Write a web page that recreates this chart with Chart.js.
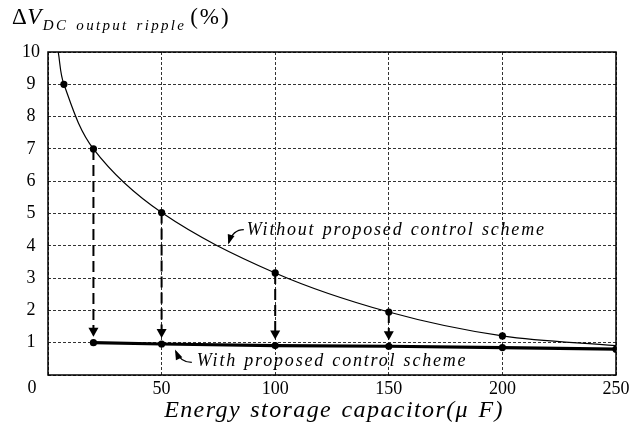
<!DOCTYPE html>
<html>
<head>
<meta charset="utf-8">
<script src="https://cdn.jsdelivr.net/npm/chart.js@4"></script>
<style>
  html, body { margin: 0; padding: 0; background: #fff; }
  #wrap { position: relative; width: 643px; height: 428px; }
  canvas { position: absolute; left: 0; top: 0; }
  #ytitle { position: absolute; left: 12px; top: 3px; font-family: "Liberation Serif", serif; color: #000; white-space: nowrap; line-height: 28px; }
  #ytitle .big { font-size: 23px; letter-spacing: 0.5px; }
  #ytitle .pct { font-size: 23px; letter-spacing: 2px; margin-left: 4px; }
  #ytitle .sub { font-size: 15px; font-style: italic; letter-spacing: 2.3px; word-spacing: 2px; position: relative; top: 6px; margin-left: 1px; }
</style>
</head>
<body>
<div id="wrap">
  <canvas id="c" width="643" height="428"></canvas>
  <div id="ytitle"><span class="big">Δ<i>V</i></span><span class="sub">DC output ripple</span><span class="pct">(%)</span></div>
</div>
<script>
// ---- data ----
const withoutX      = [4.5, 7, 20, 50, 100, 150, 200, 250];
const withoutRipple = [10, 9, 7, 5.03, 3.16, 1.95, 1.21, 0.91];
const withoutMarked = [false, true, true, true, true, true, true, false];
const withX         = [20, 50, 100, 150, 200, 250];
const withRipple    = [1.0, 0.96, 0.91, 0.89, 0.85, 0.80];
const arrowX        = [20, 50, 100, 150];
const xTicks        = [0, 50, 100, 150, 200, 250];
const yTicks        = [0, 1, 2, 3, 4, 5, 6, 7, 8, 9, 10];
const labelWithout  = "Without proposed control scheme";
const labelWith     = "With proposed control scheme";
const xTitle        = "Energy storage capacitor(μ F)";

const FONT = '"Liberation Serif", "Times New Roman", serif';

function ptsFrom(xs, ys) { return xs.map((x, i) => ({ x: x, y: ys[i] })); }
function valAt(xs, ys, x) { return ys[xs.indexOf(x)]; }

const overlay = {
  id: 'overlay',
  beforeDatasetsDraw(chart) {
    const { ctx, scales: { x: xs, y: ys } } = chart;
    ctx.save();
    ctx.strokeStyle = '#000';
    ctx.fillStyle = '#000';
    arrowX.forEach(ax => {
      const px = xs.getPixelForValue(ax);
      const y1 = ys.getPixelForValue(valAt(withoutX, withoutRipple, ax));
      const yTip = ys.getPixelForValue(valAt(withX, withRipple, ax)) - 6;
      const ah = 9, aw = 5;
      ctx.lineWidth = 2;
      ctx.setLineDash([11, 5]);
      ctx.beginPath();
      ctx.moveTo(px, y1);
      ctx.lineTo(px, yTip - ah + 1);
      ctx.stroke();
      ctx.setLineDash([]);
      ctx.beginPath();
      ctx.moveTo(px, yTip);
      ctx.lineTo(px - aw, yTip - ah);
      ctx.lineTo(px + aw, yTip - ah);
      ctx.closePath();
      ctx.fill();
    });
    ctx.restore();
  },
  afterDraw(chart) {
    const { ctx, chartArea: a, scales: { x: xs, y: ys } } = chart;
    ctx.save();
    // plot frame
    ctx.strokeStyle = '#000';
    ctx.lineWidth = 1.5;
    ctx.strokeRect(a.left, a.top, a.right - a.left, a.bottom - a.top);
    // origin label
    ctx.fillStyle = '#000';
    ctx.font = '18px ' + FONT;
    ctx.textAlign = 'center';
    ctx.textBaseline = 'middle';
    ctx.fillText('0', a.left - 16, a.bottom + 13);
    // x-axis title
    ctx.font = 'italic 24px ' + FONT;
    ctx.textBaseline = 'alphabetic';
    try { ctx.letterSpacing = '1.4px'; ctx.wordSpacing = '2px'; } catch (e) {}
    ctx.fillText(xTitle, (a.left + a.right) / 2 + 2, a.bottom + 42);
    // annotations
    ctx.font = 'italic 18px ' + FONT;
    ctx.textAlign = 'left';
    ctx.textBaseline = 'middle';
    try { ctx.letterSpacing = '1.8px'; ctx.wordSpacing = '1px'; } catch (e) {}
    const tx1 = xs.getPixelForValue(87.5), ty1 = ys.getPixelForValue(4.47);
    ctx.fillText(labelWithout, tx1, ty1);
    const tx2 = xs.getPixelForValue(65.5), ty2 = ys.getPixelForValue(0.42);
    ctx.fillText(labelWith, tx2, ty2);
    try { ctx.letterSpacing = '0px'; ctx.wordSpacing = '0px'; } catch (e) {}
    // curved pointer arrows
    function pointer(sx, sy, cx, cy, ex, ey) {
      ctx.lineWidth = 1.2;
      ctx.beginPath();
      ctx.moveTo(sx, sy);
      ctx.quadraticCurveTo(cx, cy, ex, ey);
      ctx.stroke();
      const ang = Math.atan2(ey - cy, ex - cx);
      const L = 8, W = 3.5;
      ctx.beginPath();
      ctx.moveTo(ex + Math.cos(ang) * 2, ey + Math.sin(ang) * 2);
      ctx.lineTo(ex - Math.cos(ang) * L - Math.sin(ang) * W, ey - Math.sin(ang) * L + Math.cos(ang) * W);
      ctx.lineTo(ex - Math.cos(ang) * L + Math.sin(ang) * W, ey - Math.sin(ang) * L - Math.cos(ang) * W);
      ctx.closePath();
      ctx.fill();
    }
    pointer(tx1 - 3, ty1 - 1, tx1 - 14, ty1 - 1, tx1 - 18, ty1 + 12);
    pointer(tx2 - 5, ty2 + 1, tx2 - 16, ty2 + 1, tx2 - 21, ty2 - 10);
    ctx.restore();
  }
};

new Chart(document.getElementById('c'), {
  type: 'scatter',
  data: {
    datasets: [
      {
        label: labelWithout,
        data: ptsFrom(withoutX, withoutRipple),
        showLine: true,
        borderColor: '#000',
        backgroundColor: '#000',
        borderWidth: 1.2,
        tension: 0.35,
        pointRadius: withoutMarked.map(m => m ? 3.6 : 0),
        pointBorderWidth: 0,
        order: 2
      },
      {
        label: labelWith,
        data: ptsFrom(withX, withRipple),
        showLine: true,
        borderColor: '#000',
        backgroundColor: '#000',
        borderWidth: 3.2,
        tension: 0,
        pointRadius: 3.6,
        pointBorderWidth: 0,
        order: 1
      }
    ]
  },
  options: {
    responsive: false,
    animation: false,
    events: [],
    layout: { padding: { left: 0, right: 27, top: 52, bottom: 0 } },
    plugins: { legend: { display: false }, tooltip: { enabled: false } },
    scales: {
      x: {
        type: 'linear', min: 0, max: 250,
        afterBuildTicks: s => { s.ticks = xTicks.map(v => ({ value: v })); },
        afterFit: s => { s.height = 53; },
        ticks: {
          color: '#000', font: { family: FONT, size: 18 }, padding: 3,
          callback: v => v === 0 ? '' : String(v)
        },
        grid: { color: '#333', lineWidth: 1, drawTicks: false },
        border: { display: false, dash: [3, 2] }
      },
      y: {
        type: 'linear', min: 0, max: 10,
        afterBuildTicks: s => { s.ticks = yTicks.map(v => ({ value: v })); },
        afterFit: s => { s.width = 48; },
        ticks: {
          color: '#000', font: { family: FONT, size: 18 }, padding: 8,
          crossAlign: 'center',
          callback: v => v === 0 ? '' : String(v)
        },
        grid: { color: '#333', lineWidth: 1, drawTicks: false },
        border: { display: false, dash: [3, 2] }
      }
    }
  },
  plugins: [overlay]
});
</script>
</body>
</html>
